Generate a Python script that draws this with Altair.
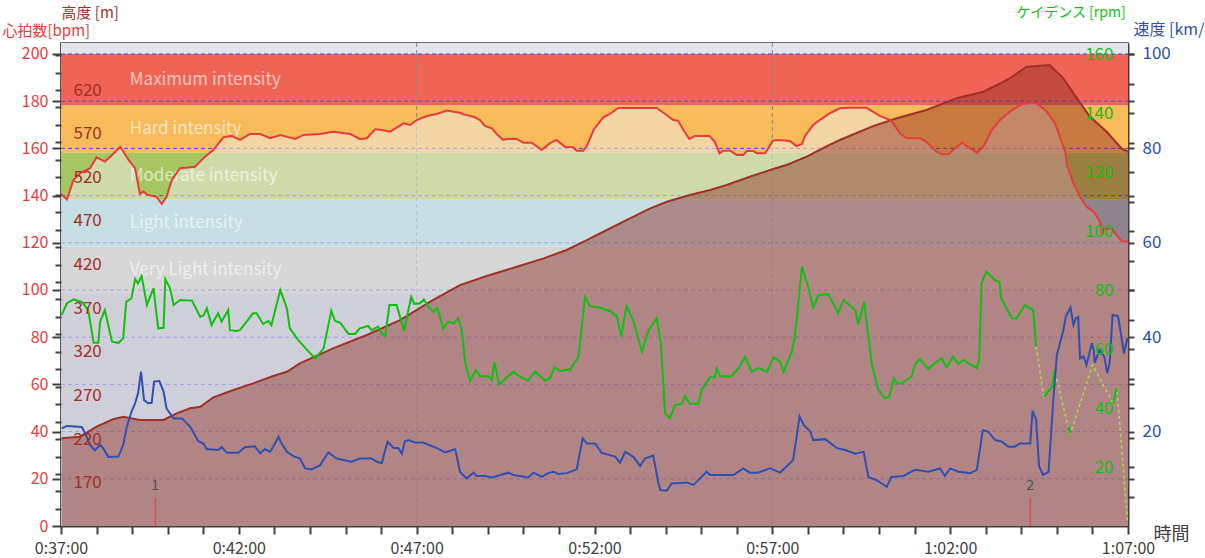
import altair as alt
import pandas as pd

# ---------------- data ----------------
# time in seconds (0:37:00 = 2220 s ... 1:07:00 = 4020 s)
hr_t = [2220, 2230, 2241, 2252, 2269, 2280, 2294, 2306, 2320, 2334,
        2345, 2353, 2359, 2366, 2381, 2390, 2398, 2407, 2421, 2446,
        2463, 2477, 2494, 2508, 2522, 2539, 2556, 2573, 2590, 2615,
        2629, 2657, 2679, 2708, 2724, 2736, 2750, 2761, 2775, 2798,
        2809, 2820, 2837, 2854, 2871, 2893, 2899, 2916, 2927, 2935,
        2947, 2955, 2966, 2972, 2989, 3000, 3014, 3031, 3045, 3056,
        3070, 3084, 3090, 3101, 3107, 3119, 3135, 3146, 3160, 3191,
        3225, 3239, 3253, 3261, 3270, 3280, 3290, 3314, 3323, 3331,
        3337, 3349, 3360, 3371, 3377, 3388, 3394, 3408, 3421, 3430,
        3450, 3461, 3470, 3475, 3489, 3500, 3517, 3534, 3551, 3579,
        3588, 3602, 3619, 3624, 3635, 3647, 3669, 3680, 3697, 3706,
        3717, 3728, 3740, 3751, 3765, 3776, 3790, 3804, 3821, 3838,
        3855, 3866, 3883, 3897, 3905, 3914, 3917, 3928, 3939, 3950,
        3962, 3973, 3976, 3980, 3993, 4001, 4010, 4020]
hr_v = [140.7, 138.4, 146.6, 149.4, 151.6, 156.2, 154.4, 157.2, 160.7, 155.1,
        151.6, 140.7, 141.7, 140.3, 139.5, 136.4, 139.5, 146.6, 151.6, 152.2,
        156.5, 159.3, 164.7, 165.3, 163.6, 166.1, 166.1, 164.3, 165.7, 164.0,
        165.7, 166.1, 167.1, 166.1, 164.0, 164.3, 168.1, 167.8, 167.1, 170.6,
        169.9, 172.0, 173.7, 174.6, 176.0, 175.1, 174.4, 173.4, 172.0, 169.5,
        168.5, 166.1, 163.6, 164.0, 164.0, 162.4, 162.4, 159.3, 162.2, 163.6,
        160.7, 160.5, 159.0, 159.0, 161.0, 168.1, 173.2, 174.6, 177.1, 177.1,
        177.1, 174.6, 172.0, 171.7, 167.8, 164.0, 165.3, 165.3, 162.8, 157.9,
        159.0, 159.0, 157.2, 157.2, 158.9, 158.9, 157.9, 157.9, 163.3, 163.6,
        163.1, 161.0, 161.9, 165.3, 169.9, 172.0, 174.9, 177.0, 177.2, 177.2,
        175.8, 173.7, 172.0, 170.6, 166.4, 164.3, 164.3, 162.8, 158.6, 157.5,
        157.5, 160.0, 162.4, 160.5, 158.2, 160.7, 167.8, 172.0, 175.6, 178.4,
        179.4, 179.1, 175.6, 170.6, 165.0, 158.6, 153.0, 145.2, 139.5, 135.3,
        133.2, 128.9, 123.3, 126.1, 125.8, 123.3, 120.5, 120.5]

alt_t = [2221, 2252, 2280, 2308, 2325, 2353, 2393, 2415, 2438, 2455,
         2477, 2511, 2544, 2578, 2601, 2623, 2679, 2736, 2792, 2848,
         2893, 2938, 2989, 3034, 3073, 3107, 3141, 3174, 3214, 3242,
         3281, 3315, 3343, 3382, 3416, 3444, 3478, 3512, 3534, 3551,
         3590, 3630, 3680, 3731, 3776, 3816, 3849, 3888, 3911, 3934,
         3956, 3984, 4009, 4020]
alt_v = [220.9, 222.7, 234.2, 242.7, 245.6, 241.9, 241.9, 249.5, 255.3, 257.1,
         267.9, 276.2, 283.9, 292.3, 297.2, 306.8, 324.0, 339.3, 356.4, 379.4,
         396.5, 406.9, 417.5, 427.1, 436.7, 448.1, 459.6, 471.0, 484.4, 492.0,
         499.7, 505.4, 511.1, 520.6, 528.3, 534.1, 543.6, 555.8, 562.7, 567.6,
         578.7, 587.6, 597.1, 610.5, 618.1, 631.5, 646.7, 648.6, 633.4, 610.5,
         589.4, 572.2, 553.2, 549.3]

# cadence: continuous recording
cad_t = [2221, 2230, 2241, 2255, 2266, 2275, 2283, 2286, 2294, 2306,
         2317, 2325, 2330, 2339, 2345, 2350, 2356, 2365, 2376, 2384,
         2393, 2396, 2404, 2410, 2421, 2441, 2449, 2455, 2461, 2466,
         2474, 2485, 2491, 2502, 2505, 2516, 2522, 2544, 2550, 2561,
         2570, 2575, 2590, 2601, 2606, 2620, 2635, 2649, 2663, 2676,
         2682, 2691, 2705, 2716, 2724, 2738, 2744, 2755, 2761, 2767,
         2774, 2786, 2792, 2799, 2806, 2811, 2816, 2826, 2832, 2840,
         2848, 2855, 2865, 2873, 2882, 2890, 2896, 2902, 2910, 2920,
         2927, 2941, 2947, 2951, 2959, 2983, 2994, 3008, 3020, 3037,
         3045, 3053, 3062, 3079, 3093, 3104, 3112,
         3129, 3146, 3158, 3165, 3174, 3186, 3200, 3211, 3225, 3232,
         3239, 3247, 3256, 3267, 3273, 3281, 3295, 3301, 3315, 3323,
         3326, 3332, 3351, 3363, 3374, 3385, 3397, 3411, 3422, 3433,
         3439, 3453, 3458, 3470, 3481, 3489, 3498, 3514, 3531, 3540,
         3560, 3565, 3575, 3582, 3588, 3599, 3610, 3617, 3625, 3630,
         3638, 3655, 3661, 3669, 3683, 3694, 3706, 3714, 3725, 3734,
         3742, 3765, 3769, 3773, 3781, 3796, 3803, 3806, 3824, 3832,
         3846, 3860, 3865]
cad_v = [71.5, 75.5, 76.8, 76.0, 73.2, 62.1, 62.1, 69.3, 73.2, 62.5,
         62.1, 63.6, 76.0, 77.2, 83.7, 82.3, 84.7, 74.9, 80.6, 67.0,
         67.2, 83.7, 80.6, 74.9, 76.6, 76.4, 73.2, 70.9, 71.5, 73.8,
         68.1, 72.1, 69.3, 73.2, 66.4, 66.1, 66.4, 72.1, 72.1, 68.5,
         69.5, 68.1, 80.0, 73.8, 67.0, 63.1, 59.7, 56.8, 60.2, 73.0,
         69.6, 68.9, 65.1, 65.1, 67.0, 67.8, 66.4, 67.6, 65.3, 64.4,
         74.9, 74.9, 70.9, 66.2, 73.2, 77.7, 75.3, 75.5, 76.8, 74.3,
         72.6, 73.8, 67.0, 69.3, 68.7, 70.4, 66.4, 55.2, 49.2, 52.9,
         50.8, 50.8, 49.5, 55.7, 48.0, 52.3, 50.6, 49.3, 52.3, 49.3,
         50.1, 53.8, 52.6, 53.1, 57.4, 77.7, 74.6,
         74.0, 72.9, 71.0, 64.2, 74.6, 69.3, 59.1, 66.4, 70.4, 61.9,
         38.2, 36.5, 41.0, 41.4, 44.1, 41.4, 41.4, 46.3, 50.4, 50.4,
         53.5, 50.8, 50.8, 53.5, 57.4, 52.3, 53.5, 52.3, 57.2, 55.7,
         52.3, 59.1, 64.2, 87.9, 80.6, 74.1, 78.3, 78.6, 72.3, 76.6,
         73.2, 68.5, 76.0, 64.2, 54.6, 46.1, 43.3, 43.8, 50.1, 48.4,
         48.4, 50.6, 54.9, 56.5, 53.2, 55.2, 56.8, 53.8, 57.4, 54.9,
         56.3, 53.5, 56.3, 82.3, 86.2, 83.2, 82.8, 77.2, 70.4, 70.4,
         74.9, 73.2, 60.8]
# cadence: broken recording near the end (segments joined by dotted lines)
cad_tail_t = [3878, 3892, 3896, 3919, 3923, 3960, 3995, 4001, 4007, 4019]
cad_tail_v = [43.8, 47.2, 52.9, 33.7, 31.4, 54.6, 41.6, 46.9, 32.5, 2.0]
cad_tail_seg = [1, 1, 1, 2, 2, 3, 4, 4, 5, 6]

spd_t = [2221, 2230, 2255, 2261, 2269, 2277, 2286, 2291, 2300, 2317,
         2325, 2331, 2339, 2345, 2350, 2355, 2360, 2367, 2373, 2377,
         2386, 2393, 2398, 2410, 2424, 2438, 2452, 2460, 2466, 2485,
         2491, 2500, 2519, 2530, 2547, 2556, 2564, 2573, 2587, 2592,
         2601, 2612, 2623, 2632, 2643, 2657, 2671, 2685, 2710, 2724,
         2744, 2753, 2761, 2771, 2781, 2789, 2795, 2800, 2806, 2817,
         2831, 2854, 2868, 2885, 2893, 2904, 2916, 2921, 2935, 2947,
         2975, 2983, 3008, 3017, 3031, 3042, 3051, 3059, 3073, 3090,
         3100, 3107, 3121, 3132, 3155, 3163, 3172, 3186, 3197, 3205,
         3219, 3228, 3231, 3242, 3250, 3276, 3287, 3298, 3309, 3315,
         3354, 3371, 3382, 3396, 3416, 3433, 3444, 3455, 3466, 3473,
         3484, 3489, 3509, 3529, 3543, 3560, 3574, 3582, 3596, 3613,
         3621, 3641, 3661, 3683, 3703, 3711, 3720, 3734, 3754, 3765,
         3775, 3784, 3796, 3807, 3818, 3829, 3838, 3855, 3859, 3865,
         3870, 3877, 3886, 3894, 3900, 3911, 3915, 3923, 3928, 3932,
         3936, 3939, 3945, 3950, 3959, 3962, 3964, 3972, 3980, 3985,
         3989, 3994, 4003, 4008, 4013, 4019]
spd_v = [20.7, 21.2, 21.0, 19.6, 17.2, 16.0, 17.2, 16.5, 14.6, 14.7,
         17.2, 21.0, 24.2, 26.0, 28.1, 32.7, 26.7, 26.0, 26.1, 30.6,
         30.7, 28.5, 24.9, 22.8, 22.8, 21.0, 17.9, 17.5, 16.3, 16.1,
         16.7, 15.5, 15.5, 16.7, 16.9, 15.4, 16.3, 15.7, 18.9, 17.5,
         15.7, 14.8, 14.3, 12.2, 12.0, 12.9, 15.6, 14.3, 13.6, 14.3,
         14.3, 13.6, 13.3, 17.9, 16.5, 16.5, 15.3, 17.9, 18.2, 17.7,
         17.7, 16.5, 15.6, 16.3, 11.5, 10.1, 11.3, 10.6, 10.6, 10.3,
         11.3, 10.8, 10.3, 11.3, 10.4, 11.2, 11.5, 11.0, 11.2, 12.0,
         18.6, 17.5, 17.5, 15.5, 14.7, 13.4, 15.7, 14.6, 12.7, 14.3,
         14.9, 9.0, 7.6, 7.5, 9.0, 9.2, 8.7, 10.1, 11.5, 10.8,
         10.8, 12.2, 11.3, 11.3, 12.2, 11.3, 12.6, 14.0, 23.2, 21.4,
         20.0, 18.2, 18.4, 16.5, 16.1, 15.3, 15.7, 10.4, 9.7, 8.3,
         10.4, 10.6, 11.9, 11.5, 12.2, 10.6, 12.2, 11.5, 11.2, 11.9,
         20.3, 20.0, 18.2, 17.9, 16.8, 16.8, 17.5, 17.5, 24.4, 22.5,
         12.6, 10.8, 11.5, 26.7, 36.2, 41.5, 44.3, 46.3, 42.6, 44.0,
         44.3, 35.5, 35.9, 34.1, 38.7, 37.3, 34.6, 37.3, 35.9, 32.4,
         34.5, 44.7, 44.5, 40.8, 36.6, 39.8]

zone_names = ["", "Maximum intensity", "Hard intensity", "Moderate intensity",
              "Light intensity", "Very Light intensity", ""]
zone_lo = [200, 178.2, 158.2, 138.2, 118.3, 98.6, 0]
zone_hi = [204.66, 200, 178.2, 158.2, 138.2, 118.3, 98.6]
zone_colors = ["#e2e5ec", "#f06455", "#f7bb5a", "#a5c660", "#90cce5", "#b6bcc9", "#a7adcf"]

hr_grid = [20, 40, 60, 80, 100, 120, 140, 160, 180, 200]
time_grid = [2820, 3420]
lap_t = [2379, 3855]
lap_label = ["1", "2"]

# ---------------- chart ----------------
W, H = 1067, 483
T0, T1 = 2220, 4020
ALT_MIN, ALT_MAX = 120.4, 673.9
FONT = "Noto Sans CJK JP"
AX = "#404040"
HR_C = "#e63c3c"
ALT_C = "#a0302a"
CAD_C = "#10c010"
SPD_C = "#3050a8"

hr_scale = alt.Scale(domain=[0, 204.66], nice=False, zero=False)
alt_scale = alt.Scale(domain=[ALT_MIN, ALT_MAX], nice=False, zero=False)
cad_scale = alt.Scale(domain=[0, 163.73], nice=False, zero=False)
spd_scale = alt.Scale(domain=[0, 102.33], nice=False, zero=False)
x_scale = alt.Scale(domain=[T0, T1], nice=False, zero=False)

x_axis = alt.Axis(
    values=list(range(T0, T1 + 1, 60)),
    labelExpr="(datum.value - 2220) % 300 == 0 ? utcFormat(datum.value * 1000, '%-H:%M:%S') : ''",
    tickSize=8, tickWidth=2, tickColor=AX, domainColor=AX, domainWidth=2,
    labelColor=AX, labelFont=FONT, labelFontSize=16, labelPadding=6,
    labelOverlap=False, labelFlush=False, grid=False,
    title="時間", titleFont=FONT, titleFontSize=18, titleFontWeight="normal",
    titleColor=AX, titleAngle=0, titleX=1092, titleY=8,
    titleAlign="left", titleBaseline="middle")


def X():
    return alt.X("t:Q", scale=x_scale, axis=x_axis)


hr_axis = alt.Axis(
    orient="left", values=list(range(0, 201, 20)),
    tickSize=9, tickWidth=2, tickColor=AX, domainColor=AX, domainWidth=2,
    labelColor=HR_C, labelFont=FONT, labelFontSize=16, labelPadding=4,
    labelOverlap=False, grid=False,
    title="心拍数[bpm]", titleColor=HR_C, titleFont=FONT, titleFontSize=15,
    titleFontWeight="normal", titleAngle=0, titleX=-59, titleY=-13,
    titleAlign="left", titleBaseline="middle")

alt_vals = sorted(set(list(range(140, 661, 20)) + list(range(170, 621, 50))))
alt_axis = alt.Axis(
    orient="left", values=alt_vals,
    tickSize=6, tickWidth=2, tickColor=AX,
    tickOpacity={"condition": {"test": "datum.value % 20 != 0", "value": 0}, "value": 1},
    domain=False,
    labelExpr="(datum.value - 170) % 50 == 0 ? datum.label : ''",
    labelColor=ALT_C, labelFont=FONT, labelFontSize=17, labelAlign="left",
    labelPadding=-18, labelOverlap=False, labelBound=False, grid=False,
    title="高度 [m]", titleColor=ALT_C, titleFont=FONT, titleFontSize=15,
    titleFontWeight="normal", titleAngle=0, titleX=0, titleY=-31,
    titleAlign="left", titleBaseline="middle", zindex=1)

cad_axis = alt.Axis(
    orient="right", values=list(range(10, 161, 10)),
    tickSize=6, tickWidth=2, tickColor=AX, domain=False,
    labelExpr="datum.value % 20 == 0 ? datum.label : ''",
    labelColor=CAD_C, labelFont=FONT, labelFontSize=17, labelAlign="right",
    labelPadding=-21, labelOverlap=False, labelBound=False, grid=False,
    title="ケイデンス [rpm]", titleColor=CAD_C, titleFont=FONT, titleFontSize=14,
    titleFontWeight="normal", titleAngle=0, titleX=-112, titleY=-31,
    titleAlign="left", titleBaseline="middle", zindex=1)

spd_axis = alt.Axis(
    orient="right", values=list(range(10, 101, 10)),
    tickSize=6, tickWidth=2, tickColor=AX, domainColor=AX, domainWidth=2,
    labelExpr="datum.value % 20 == 0 ? datum.label : ''",
    labelColor=SPD_C, labelFont=FONT, labelFontSize=17, labelPadding=8,
    labelOverlap=False, grid=False,
    title="速度 [km/h]", titleColor=SPD_C, titleFont=FONT, titleFontSize=16,
    titleFontWeight="normal", titleAngle=0, titleX=5, titleY=-14,
    titleAlign="left", titleBaseline="middle")

zones_df = pd.DataFrame({"lo": zone_lo, "hi": zone_hi, "c": zone_colors, "name": zone_names})
zones_df["mid"] = (zones_df["lo"] + zones_df["hi"]) / 2
ztext_df = zones_df[zones_df["name"] != ""].copy()
ztext_df["t"] = 2336

hr_df = pd.DataFrame(list(zip(hr_t, hr_v)), columns=["t", "hr"])
alt_df = pd.DataFrame(list(zip(alt_t, alt_v)), columns=["t", "a"])
cad_rows = [(t, v, 0) for t, v in zip(cad_t, cad_v)] + \
           list(zip(cad_tail_t, cad_tail_v, cad_tail_seg))
cad_df = pd.DataFrame(cad_rows, columns=["t", "c", "seg"])
dot_df = cad_df[cad_df["t"] >= cad_t[-1]]
spd_df = pd.DataFrame(list(zip(spd_t, spd_v)), columns=["t", "s"])
grid_df = pd.DataFrame({"g": hr_grid})
vgrid_df = pd.DataFrame({"t": time_grid})
lap_df = pd.DataFrame({"t": lap_t, "lab": lap_label})

zones = alt.Chart(zones_df).mark_rect().encode(
    x=alt.value(0), x2=alt.value(W),
    y=alt.Y("lo:Q", scale=hr_scale, axis=hr_axis), y2="hi:Q",
    color=alt.Color("c:N", scale=None))

grid = alt.Chart(grid_df).mark_rule(color="#4646f0", strokeDash=[4, 3], strokeWidth=1).encode(
    y=alt.Y("g:Q", scale=hr_scale, axis=None), x=alt.value(0), x2=alt.value(W))

vgrid = alt.Chart(vgrid_df).mark_rule(color="#7d8596", strokeDash=[4, 3], strokeWidth=1).encode(
    x=X(), y=alt.value(0), y2=alt.value(H))

hr_fill = alt.Chart(hr_df).mark_area(color="#f0ebe1", opacity=0.55, clip=True).encode(
    x=X(), y=alt.Y("hr:Q", scale=hr_scale, axis=None), y2=alt.datum(0))

ztext = alt.Chart(ztext_df).mark_text(
    align="left", baseline="middle", font=FONT, fontSize=17, color="white", opacity=0.6).encode(
    x=X(), y=alt.Y("mid:Q", scale=hr_scale, axis=None), text="name:N")

alt_fill = alt.Chart(alt_df).mark_area(color="#8b2a20", opacity=0.45, clip=True).encode(
    x=X(), y=alt.Y("a:Q", scale=alt_scale, axis=alt_axis), y2=alt.datum(ALT_MIN))

alt_line = alt.Chart(alt_df).mark_line(color=ALT_C, strokeWidth=2).encode(
    x=X(), y=alt.Y("a:Q", scale=alt_scale, axis=None))

hr_line = alt.Chart(hr_df).mark_line(color=HR_C, strokeWidth=2).encode(
    x=X(), y=alt.Y("hr:Q", scale=hr_scale, axis=None))

lap_rule = alt.Chart(lap_df).mark_rule(color=HR_C, strokeWidth=1).encode(
    x=X(), y=alt.value(H - 28), y2=alt.value(H))

lap_text = alt.Chart(lap_df).mark_text(
    font=FONT, fontSize=14, color="#505050", baseline="middle").encode(
    x=X(), y=alt.value(H - 40), text="lab:N")

cad_dot = alt.Chart(dot_df).mark_line(color="#a8e048", strokeDash=[3, 3], strokeWidth=1.5).encode(
    x=X(), y=alt.Y("c:Q", scale=cad_scale, axis=None))

cad_line = alt.Chart(cad_df).mark_line(color=CAD_C, strokeWidth=2).encode(
    x=X(), y=alt.Y("c:Q", scale=cad_scale, axis=cad_axis), detail="seg:N")

spd_line = alt.Chart(spd_df).mark_line(color="#2f50b0", strokeWidth=2).encode(
    x=X(), y=alt.Y("s:Q", scale=spd_scale, axis=spd_axis))

chart = alt.layer(
    zones, grid, vgrid, hr_fill, ztext, alt_fill, alt_line, hr_line,
    lap_rule, lap_text, cad_dot, cad_line, spd_line
).resolve_scale(y="independent").properties(
    width=W, height=H,
    autosize=alt.AutoSizeParams(type="none"),
    padding={"left": 61, "top": 43, "right": 77, "bottom": 32},
    background="white"
).configure_view(stroke=AX, strokeWidth=1.5)

chart.save("out.html", embed_options={"renderer": "svg", "actions": False})
